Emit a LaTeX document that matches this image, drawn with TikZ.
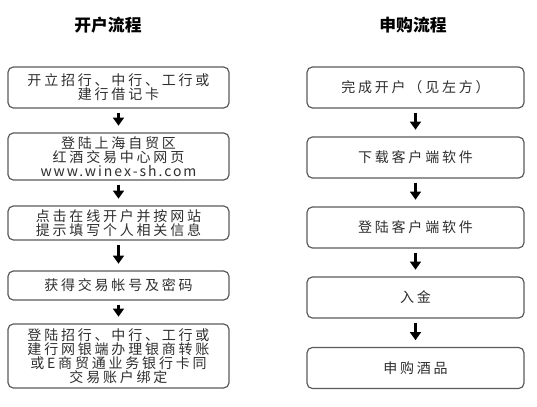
\documentclass[tikz,border=0pt]{standalone}
\usepackage{fontspec}
\usetikzlibrary{arrows.meta}
\newfontfamily\boxfont[LetterSpace=20]{Noto Sans CJK SC}
\newfontfamily\urlfont[LetterSpace=14]{Noto Sans CJK SC}
\newfontfamily\titlefont{Noto Sans CJK SC}
\definecolor{boxline}{HTML}{5A5A5A}
\definecolor{boxtext}{HTML}{2E2E2E}

\begin{document}
\begin{tikzpicture}[x=0.75pt,y=-0.75pt,
    % Stílus a lekerekített dobozokhoz
    lepes/.style={
        draw=boxline, line width=0.9pt, rounded corners=4pt,
        inner sep=0pt, align=center, text=boxtext,
        font=\boxfont\fontsize{10.5pt}{10.4pt}\selectfont
    },
    % Stílus a vastag lefelé mutató nyilakhoz
    nyil/.style={
        line width=2.3pt, -{Triangle[width=8pt,length=6pt]},
        shorten <=3pt, shorten >=5pt
    },
    cim/.style={font=\titlefont\bfseries\fontsize{12.6pt}{12.6pt}\selectfont}
]
    \useasboundingbox (0,0) rectangle (537,407);

    % Címek
    \node[cim] (KT) at (108,25) {开户流程};
    \node[cim] (ST) at (413,25) {申购流程};

    % Bal oszlop: nyitás folyamata
    \node[lepes, minimum width=165.75pt, minimum height=30.75pt] (K1) at (118.5,87.5)
        {开立招行、中行、工行或\\建行借记卡};
    \node[lepes, minimum width=165.75pt, minimum height=35.25pt] (K2) at (118.5,156.5)
        {登陆上海自贸区\\红酒交易中心网页\\{\urlfont www.winex-sh.com}};
    \node[lepes, minimum width=165.75pt, minimum height=25.5pt] (K3) at (118.5,223)
        {点击在线开户并按网站\\提示填写个人相关信息};
    \node[lepes, minimum width=165.75pt, minimum height=21.75pt] (K4) at (118.5,285.5)
        {获得交易帐号及密码};
    \node[lepes, minimum width=165.75pt, minimum height=48pt] (K5) at (118.5,356)
        {登陆招行、中行、工行或\\建行网银端办理银商转账\\或E商贸通业务银行卡同\\交易账户绑定};

    % Jobb oszlop: vásárlás folyamata
    \node[lepes, minimum width=162.75pt, minimum height=30.75pt] (S1) at (415.5,87.5) {完成开户（见左方）};
    \node[lepes, minimum width=162.75pt, minimum height=30.75pt] (S2) at (415.5,157.5) {下载客户端软件};
    \node[lepes, minimum width=162.75pt, minimum height=30.75pt] (S3) at (415.5,227.5) {登陆客户端软件};
    \node[lepes, minimum width=162.75pt, minimum height=30.75pt] (S4) at (415.5,297.5) {入金};
    \node[lepes, minimum width=162.75pt, minimum height=30.75pt] (S5) at (415.5,368) {申购酒品};

    % Nyilak a dobozok között
    \draw[nyil] (K1) -- (K2);
    \draw[nyil] (K2) -- (K3);
    \draw[nyil] (K3) -- (K4);
    \draw[nyil] (K4) -- (K5);
    \draw[nyil] (S1) -- (S2);
    \draw[nyil] (S2) -- (S3);
    \draw[nyil] (S3) -- (S4);
    \draw[nyil] (S4) -- (S5);
\end{tikzpicture}
\end{document}
